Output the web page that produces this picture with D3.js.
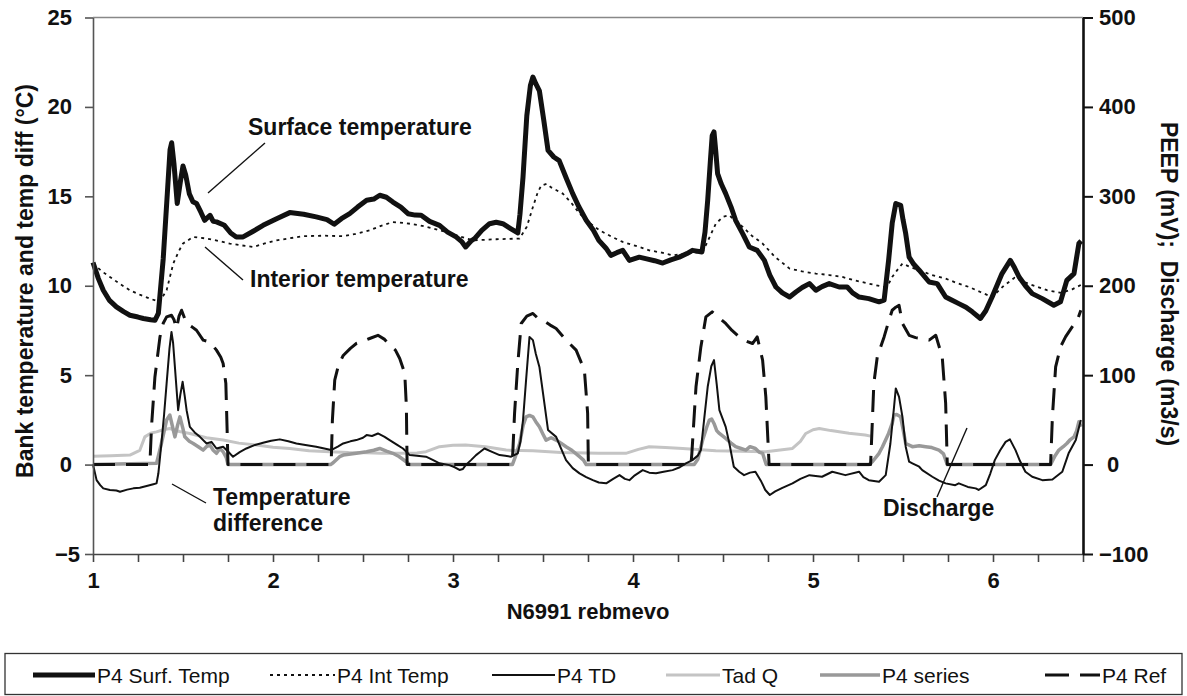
<!DOCTYPE html>
<html><head><meta charset="utf-8">
<script src="https://cdn.jsdelivr.net/npm/d3@7"></script>
<style>
html,body{margin:0;padding:0;background:#fff;}
svg{display:block;font-family:"Liberation Sans",Arial,Helvetica,sans-serif;}
</style></head>
<body><svg id="chart" width="1187" height="696"></svg>
<script>
// ---- data (x = day index) ----
const surfaceTemp = [[1.0,11.3],[1.03,10.4],[1.057,9.75],[1.09,9.2],[1.13,8.82],[1.17,8.55],[1.205,8.35],[1.25,8.25],[1.28,8.17],[1.32,8.1],[1.344,8.07],[1.363,8.45],[1.39,11.5],[1.415,15.5],[1.428,17.6],[1.437,18.0],[1.45,16.8],[1.468,14.6],[1.485,15.8],[1.5,16.7],[1.515,16.2],[1.535,15.15],[1.555,14.7],[1.575,14.6],[1.6,14.1],[1.62,13.66],[1.65,13.94],[1.668,13.6],[1.686,13.57],[1.73,13.38],[1.765,12.95],[1.796,12.73],[1.834,12.73],[1.89,13.05],[1.945,13.38],[2.02,13.75],[2.093,14.09],[2.17,14.0],[2.24,13.85],[2.3,13.7],[2.34,13.44],[2.38,13.75],[2.426,14.03],[2.47,14.4],[2.52,14.78],[2.56,14.85],[2.593,15.06],[2.63,14.95],[2.666,14.68],[2.71,14.4],[2.75,14.03],[2.79,13.95],[2.823,13.94],[2.87,13.6],[2.925,13.38],[2.97,13.0],[3.017,12.73],[3.05,12.45],[3.07,12.17],[3.1,12.5],[3.12,12.64],[3.16,13.1],[3.203,13.47],[3.24,13.55],[3.277,13.47],[3.32,13.2],[3.36,12.95],[3.372,14.0],[3.389,16.08],[3.41,19.5],[3.43,21.2],[3.444,21.67],[3.46,21.3],[3.48,20.9],[3.505,19.2],[3.528,17.57],[3.56,17.2],[3.59,17.0],[3.63,16.0],[3.665,15.15],[3.70,14.4],[3.74,13.66],[3.78,13.1],[3.81,12.54],[3.85,12.1],[3.877,11.7],[3.91,11.85],[3.943,11.98],[3.98,11.42],[4.035,11.6],[4.07,11.52],[4.12,11.4],[4.165,11.27],[4.21,11.45],[4.257,11.6],[4.3,11.8],[4.33,11.98],[4.383,11.89],[4.40,13.0],[4.415,14.78],[4.43,17.0],[4.44,18.4],[4.45,18.6],[4.46,17.5],[4.47,16.27],[4.49,15.7],[4.515,15.15],[4.545,14.4],[4.57,13.66],[4.61,12.9],[4.646,12.17],[4.69,11.98],[4.73,11.42],[4.76,10.6],[4.794,9.93],[4.83,9.6],[4.87,9.37],[4.905,9.65],[4.94,9.9],[4.98,10.12],[5.016,9.75],[5.05,9.95],[5.09,10.12],[5.145,9.93],[5.19,9.93],[5.22,9.6],[5.256,9.37],[5.31,9.28],[5.367,9.1],[5.395,9.19],[5.42,11.42],[5.44,13.5],[5.46,14.6],[5.487,14.5],[5.50,13.7],[5.515,12.92],[5.534,11.6],[5.56,11.2],[5.59,10.87],[5.645,10.21],[5.69,10.12],[5.737,9.37],[5.77,9.2],[5.81,9.0],[5.85,8.8],[5.885,8.54],[5.93,8.17],[5.96,8.6],[5.995,9.37],[6.05,10.68],[6.096,11.42],[6.12,11.0],[6.145,10.49],[6.18,10.0],[6.218,9.56],[6.274,9.28],[6.338,8.91],[6.375,9.1],[6.41,10.3],[6.45,10.68],[6.477,12.36],[6.49,12.5]];

const interiorTemp = [[1.0,11.24],[1.05,10.8],[1.094,10.49],[1.15,10.1],[1.205,9.75],[1.26,9.5],[1.316,9.28],[1.37,9.1],[1.409,9.75],[1.446,11.24],[1.475,11.9],[1.5,12.36],[1.557,12.73],[1.631,12.64],[1.70,12.5],[1.76,12.36],[1.83,12.25],[1.89,12.17],[1.95,12.35],[2.02,12.54],[2.09,12.65],[2.167,12.77],[2.28,12.8],[2.39,12.77],[2.46,12.9],[2.537,13.1],[2.6,13.35],[2.666,13.56],[2.74,13.5],[2.815,13.38],[2.89,13.2],[2.962,13.0],[3.04,12.75],[3.11,12.54],[3.24,12.6],[3.37,12.64],[3.41,13.3],[3.444,14.4],[3.47,15.2],[3.49,15.6],[3.52,15.7],[3.545,15.5],[3.61,15.15],[3.66,14.6],[3.703,14.03],[3.76,13.5],[3.814,13.1],[3.88,12.75],[3.943,12.45],[4.035,12.17],[4.09,11.98],[4.16,11.85],[4.22,11.7],[4.3,11.8],[4.387,11.89],[4.42,12.6],[4.46,13.47],[4.5,13.85],[4.535,13.94],[4.57,13.6],[4.61,13.29],[4.66,12.8],[4.72,12.36],[4.79,11.6],[4.87,10.96],[4.94,10.8],[5.016,10.68],[5.09,10.6],[5.164,10.49],[5.23,10.3],[5.31,10.12],[5.395,9.93],[5.42,10.1],[5.44,10.49],[5.47,10.9],[5.497,11.24],[5.54,11.05],[5.59,10.87],[5.66,10.6],[5.737,10.4],[5.8,10.15],[5.867,9.93],[5.93,9.65],[5.995,9.37],[6.06,10.0],[6.12,10.45],[6.2,10.1],[6.3,9.75],[6.38,9.6],[6.44,9.8],[6.49,10.05]];

const tempDiff = [[1.0,0],[1.02,-0.87],[1.04,-1.15],[1.057,-1.33],[1.094,-1.42],[1.13,-1.45],[1.15,-1.52],[1.19,-1.4],[1.224,-1.33],[1.26,-1.3],[1.298,-1.2],[1.335,-1.1],[1.353,-1.05],[1.363,-0.5],[1.38,1.18],[1.395,2.8],[1.409,4.54],[1.425,6.5],[1.436,7.42],[1.445,6.8],[1.455,5.46],[1.473,3.04],[1.485,3.9],[1.498,4.63],[1.51,3.8],[1.52,3.04],[1.538,2.11],[1.565,1.8],[1.594,1.55],[1.631,1.18],[1.658,1.27],[1.686,0.9],[1.723,1.0],[1.76,0.63],[1.778,0.44],[1.815,0.7],[1.852,0.9],[1.9,1.1],[1.945,1.22],[1.99,1.33],[2.038,1.41],[2.085,1.3],[2.13,1.18],[2.18,1.1],[2.24,1.0],[2.285,0.9],[2.323,0.81],[2.36,1.0],[2.39,1.18],[2.43,1.3],[2.463,1.37],[2.5,1.5],[2.52,1.65],[2.55,1.6],[2.583,1.74],[2.62,1.55],[2.648,1.37],[2.69,1.1],[2.722,0.9],[2.76,0.53],[2.80,0.5],[2.85,0.44],[2.89,0.25],[2.925,0.07],[2.98,-0.03],[3.01,-0.15],[3.036,-0.3],[3.055,-0.25],[3.07,-0.03],[3.1,0.25],[3.128,0.53],[3.15,0.7],[3.175,0.9],[3.22,0.7],[3.259,0.53],[3.29,0.5],[3.323,0.44],[3.36,0.63],[3.375,1.3],[3.389,2.49],[3.405,4.6],[3.425,7.14],[3.444,6.96],[3.46,6.2],[3.48,5.46],[3.5,4.0],[3.528,1.93],[3.573,1.55],[3.6,0.9],[3.628,0.25],[3.665,-0.2],[3.703,-0.49],[3.74,-0.7],[3.777,-0.87],[3.81,-1.0],[3.851,-1.05],[3.89,-0.8],[3.925,-0.59],[3.955,-0.8],[3.98,-0.87],[4.01,-0.6],[4.054,-0.31],[4.09,-0.45],[4.128,-0.49],[4.17,-0.4],[4.22,-0.31],[4.26,-0.15],[4.294,0.07],[4.33,0.25],[4.36,0.5],[4.377,0.81],[4.395,2.5],[4.415,4.35],[4.435,5.5],[4.45,5.84],[4.465,4.5],[4.48,3.04],[4.515,2.11],[4.535,1.2],[4.56,-0.12],[4.59,-0.4],[4.617,-0.59],[4.65,-0.45],[4.68,-0.4],[4.71,-0.9],[4.735,-1.42],[4.76,-1.7],[4.79,-1.5],[4.83,-1.3],[4.886,-1.05],[4.93,-0.8],[4.98,-0.59],[5.05,-0.68],[5.107,-0.4],[5.18,-0.59],[5.256,-0.4],[5.28,-0.7],[5.31,-0.87],[5.367,-0.96],[5.404,-0.59],[5.43,1.18],[5.45,3.2],[5.46,4.26],[5.478,3.79],[5.497,2.67],[5.515,1.0],[5.534,0.16],[5.552,0.07],[5.59,-0.12],[5.607,-0.31],[5.663,-0.68],[5.70,-0.9],[5.737,-1.05],[5.79,-1.15],[5.81,-1.05],[5.86,-1.25],[5.904,-1.33],[5.92,-1.42],[5.96,-1.15],[5.985,-0.5],[6.01,0.25],[6.04,0.8],[6.07,1.27],[6.094,1.41],[6.125,0.81],[6.15,0.2],[6.18,-0.4],[6.218,-0.68],[6.274,-0.87],[6.33,-0.83],[6.385,-0.4],[6.42,0.63],[6.46,1.37],[6.488,2.49]];

// discharge, m3/s (right axis)
const tadQ = [[1.0,9.4],[1.1,10],[1.205,10.6],[1.26,16],[1.288,31],[1.32,35],[1.353,36.6],[1.39,39],[1.427,40.4],[1.48,37],[1.538,34.8],[1.63,30],[1.723,27.4],[1.81,24],[1.908,21.8],[2.0,19.5],[2.093,18],[2.2,15.5],[2.315,14.4],[2.42,13.5],[2.52,13.2],[2.6,12.8],[2.7,12.6],[2.8,13],[2.85,14.4],[2.925,20],[3.0,21.5],[3.07,21.8],[3.18,20],[3.295,16.2],[3.444,15.4],[3.6,13.5],[3.81,12.6],[3.96,12.6],[4.03,17],[4.09,20],[4.18,19],[4.276,18],[4.46,15.4],[4.6,14.8],[4.738,14.4],[4.886,18],[4.93,26],[4.96,34.8],[5.0,39],[5.035,40.4],[5.1,38],[5.2,35],[5.29,33],[5.32,31.8]];

const p4Series = [[1.0,0],[1.353,0.07],[1.38,1.18],[1.409,2.49],[1.427,2.77],[1.44,2.2],[1.455,1.55],[1.47,2.2],[1.483,2.67],[1.5,2.0],[1.51,1.55],[1.535,1.3],[1.557,1.18],[1.585,1.0],[1.612,0.81],[1.63,1.0],[1.65,1.09],[1.668,0.8],[1.686,0.63],[1.705,0.9],[1.723,0.72],[1.74,0.4],[1.75,0],[2.32,0],[2.334,0.1],[2.37,0.44],[2.39,0.53],[2.463,0.63],[2.52,0.72],[2.56,0.8],[2.593,0.9],[2.63,0.75],[2.666,0.63],[2.70,0.45],[2.74,0.16],[2.76,0],[3.33,0],[3.345,0.4],[3.37,1.18],[3.39,2.2],[3.406,2.67],[3.425,2.75],[3.444,2.67],[3.46,2.4],[3.48,2.11],[3.5,1.7],[3.517,1.37],[3.545,1.5],[3.573,1.37],[3.6,1.2],[3.628,1.0],[3.66,0.8],[3.703,0.44],[3.725,0.25],[3.74,0],[4.34,0],[4.36,0.3],[4.387,1.37],[4.41,2.1],[4.424,2.49],[4.437,2.55],[4.45,2.3],[4.465,1.9],[4.48,1.74],[4.515,1.46],[4.545,1.2],[4.57,1.0],[4.6,0.9],[4.627,0.81],[4.65,1.0],[4.68,0.9],[4.7,0.7],[4.72,0.63],[4.74,0],[5.31,0],[5.33,0.16],[5.367,0.63],[5.386,1.0],[5.42,1.74],[5.44,2.3],[5.45,2.77],[5.465,2.8],[5.487,2.67],[5.50,2.0],[5.515,1.18],[5.552,1.0],[5.59,1.05],[5.626,1.0],[5.66,0.95],[5.70,0.81],[5.725,0.6],[5.746,0],[6.32,0],[6.345,0.5],[6.366,0.81],[6.39,1.0],[6.41,1.18],[6.43,1.4],[6.45,1.55],[6.465,1.9],[6.477,2.39],[6.49,2.11]];

const p4Ref = [[1.0,0],[1.316,0],[1.325,2.11],[1.344,4.9],[1.372,7.14],[1.39,7.9],[1.409,8.26],[1.436,8.35],[1.45,8.1],[1.464,7.61],[1.478,8.3],[1.492,8.63],[1.52,7.89],[1.55,7.7],[1.575,7.51],[1.612,6.96],[1.65,6.86],[1.686,6.4],[1.71,6.0],[1.723,5.65],[1.738,4.54],[1.745,2.0],[1.75,0],[2.323,0],[2.33,2.49],[2.343,4.72],[2.365,5.6],[2.39,6.1],[2.43,6.5],[2.463,6.77],[2.5,6.9],[2.537,7.05],[2.583,7.23],[2.62,7.0],[2.648,6.68],[2.68,6.4],[2.704,5.93],[2.732,5.1],[2.741,3.23],[2.745,0],[3.325,0],[3.332,0.63],[3.342,2.86],[3.36,5.65],[3.379,7.89],[3.41,8.3],[3.444,8.45],[3.47,8.2],[3.5,8.07],[3.54,7.8],[3.573,7.61],[3.628,6.96],[3.684,6.4],[3.73,5.28],[3.748,2.86],[3.752,0],[4.322,0],[4.327,0.63],[4.35,4.35],[4.377,6.58],[4.405,8.26],[4.44,8.54],[4.48,8.2],[4.515,7.89],[4.55,7.5],[4.59,7.14],[4.63,6.9],[4.664,6.77],[4.69,7.14],[4.72,5.84],[4.738,3.79],[4.753,0.63],[4.756,0],[5.32,0],[5.33,2.5],[5.338,4.54],[5.357,6.02],[5.395,7.14],[5.42,8.0],[5.44,8.63],[5.46,8.8],[5.478,8.91],[5.497,7.89],[5.534,7.23],[5.57,7.1],[5.607,7.05],[5.645,6.96],[5.682,7.23],[5.718,6.02],[5.737,3.42],[5.746,0],[6.32,0],[6.33,2.67],[6.348,5.46],[6.375,6.58],[6.403,7.14],[6.44,7.7],[6.468,8.07],[6.488,8.63]];

const xTickValues = [1,1.25,1.5,1.75,2,2.25,2.5,2.75,3,3.25,3.5,3.75,4,4.25,4.5,4.75,5,5.25,5.5,5.75,6,6.25,6.5];
const xTickLabels = {1:"1",2:"2",3:"3",4:"4",5:"5",6:"6"};
const leftTicks = [-5,0,5,10,15,20,25];
const rightTicks = [-100,0,100,200,300,400,500];
const legendLabels = ["P4 Surf. Temp","P4 Int Temp","P4 TD","Tad Q","P4 series","P4 Ref"];

// ---- drawing ----
const svg = d3.select("#chart");
const L = 93, R = 1083, T = 17.5, B = 554;
const x = d3.scaleLinear().domain([1,6.5]).range([L,R]);
const yL = d3.scaleLinear().domain([-5,25]).range([B,T]);
const yR = d3.scaleLinear().domain([-100,500]).range([B,T]);
const FONT = "'Liberation Sans',Arial,Helvetica,sans-serif";

const lineL = d3.line().x(d=>x(d[0])).y(d=>yL(d[1]));
const lineR = d3.line().x(d=>x(d[0])).y(d=>yR(d[1]));

const styles = {
  surf:{stroke:"#111",w:5,dash:null},
  int:{stroke:"#111",w:1.8,dash:"3,4"},
  td:{stroke:"#111",w:2,dash:null},
  q:{stroke:"#c4c4c4",w:3,dash:null},
  ser:{stroke:"#999",w:3.5,dash:null},
  ref:{stroke:"#111",w:3,dash:"22,11"}
};
function draw(data, gen, st){
  svg.append("path").attr("d", gen(data)).attr("fill","none")
    .attr("stroke", st.stroke).attr("stroke-width", st.w)
    .attr("stroke-linejoin","round")
    .attr("stroke-dasharray", st.dash);
}
draw(tadQ, lineR, styles.q);
draw(p4Series, lineL, styles.ser);
draw(tempDiff, lineL, styles.td);
draw(p4Ref, lineL, styles.ref);
draw(interiorTemp, lineL, styles.int);
draw(surfaceTemp, lineL, styles.surf);

// top border
svg.append("line").attr("x1",L).attr("x2",R).attr("y1",T).attr("y2",T)
  .attr("stroke","#888").attr("stroke-width",1.5);

// bottom axis
const gx = svg.append("g").attr("transform",`translate(0,${B})`)
  .call(d3.axisBottom(x).tickValues(xTickValues).tickSize(8).tickSizeOuter(0)
    .tickFormat(d=>xTickLabels[d]||"").tickPadding(10));
gx.select(".domain").attr("stroke","#444").attr("stroke-width",1.6);
gx.selectAll(".tick line").attr("stroke","#444").attr("stroke-width",1.6);
gx.selectAll(".tick text").attr("font-family",FONT).attr("font-size",22).attr("font-weight","bold").attr("fill","#111");

// left axis
const gl = svg.append("g").attr("transform",`translate(${L},0)`)
  .call(d3.axisLeft(yL).tickValues(leftTicks).tickSize(8).tickSizeOuter(0));
gl.select(".domain").attr("stroke","#555").attr("stroke-width",1.6);
gl.selectAll(".tick line").attr("stroke","#555").attr("stroke-width",1.6);
gl.selectAll(".tick text").attr("font-family",FONT).attr("font-size",22).attr("font-weight","bold").attr("fill","#111")
  .attr("x", d=> d<0 ? -13 : -21);

// right axis
const gr = svg.append("g").attr("transform",`translate(${R},0)`)
  .call(d3.axisRight(yR).tickValues(rightTicks).tickSize(10).tickSizeOuter(0));
gr.select(".domain").attr("stroke","#111").attr("stroke-width",2.6);
gr.selectAll(".tick line").attr("stroke","#111").attr("stroke-width",2);
gr.selectAll(".tick text").attr("font-family",FONT).attr("font-size",22).attr("font-weight","bold").attr("fill","#111")
  .attr("x", d=> d===0 ? 24 : 16);

// axis titles
svg.append("text").attr("transform","translate(33,281) rotate(-90)")
  .attr("text-anchor","middle").attr("font-family",FONT).attr("font-size",23).attr("font-weight","bold").attr("fill","#111")
  .text("Bank temperature and temp diff (°C)");
svg.append("text").attr("transform","translate(1161,284) rotate(90)")
  .attr("text-anchor","middle").attr("font-family",FONT).attr("font-size",23).attr("font-weight","bold").attr("fill","#111")
  .attr("xml:space","preserve")
  .text("PEEP (mV);  Discharge (m3/s)");
svg.append("text").attr("x",(L+R)/2).attr("y",619)
  .attr("text-anchor","middle").attr("font-family",FONT).attr("font-size",22).attr("font-weight","bold").attr("fill","#111")
  .text("N6991 rebmevo");

// annotations
const ann = svg.append("g").attr("font-family",FONT).attr("font-size",23).attr("font-weight","bold").attr("fill","#111");
ann.append("text").attr("x",248).attr("y",135).text("Surface temperature");
ann.append("text").attr("x",250).attr("y",287).text("Interior temperature");
ann.append("text").attr("x",213).attr("y",505).text("Temperature");
ann.append("text").attr("x",213).attr("y",531).text("difference");
ann.append("text").attr("x",883).attr("y",516).text("Discharge");
const leaders = [[[265,143],[208,193]],[[205,247],[243,280]],[[172,484],[206,503]],[[967,428],[937,497]]];
leaders.forEach(p=>svg.append("line").attr("x1",p[0][0]).attr("y1",p[0][1]).attr("x2",p[1][0]).attr("y2",p[1][1])
  .attr("stroke","#111").attr("stroke-width",1.4));

// legend
svg.append("rect").attr("x",5).attr("y",653.5).attr("width",1177).attr("height",41)
  .attr("fill","none").attr("stroke","#333").attr("stroke-width",1.3);
const legItems = [
  {st:styles.surf, x1:33, x2:95},
  {st:styles.int, x1:270, x2:335},
  {st:styles.td, x1:492, x2:555},
  {st:styles.q, x1:666, x2:720},
  {st:styles.ser, x1:820, x2:880},
  {st:{stroke:"#111",w:3,dash:"24,11"}, x1:1045, x2:1100}
];
const ly = 675;
legItems.forEach((it,i)=>{
  svg.append("line").attr("x1",it.x1).attr("x2",it.x2).attr("y1",ly).attr("y2",ly)
    .attr("stroke",it.st.stroke).attr("stroke-width",it.st.w).attr("stroke-dasharray",it.st.dash);
  svg.append("text").attr("x",it.x2+2).attr("y",ly+7.5)
    .attr("font-family",FONT).attr("font-size",21).attr("fill","#111").text(legendLabels[i]);
});
</script></body></html>
